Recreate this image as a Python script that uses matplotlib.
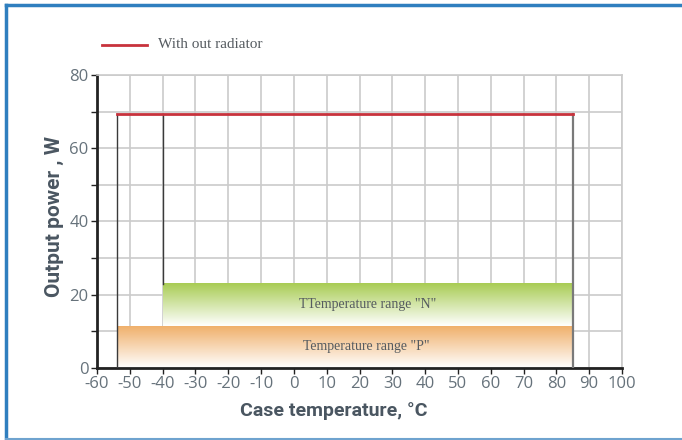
import numpy as np
import matplotlib
matplotlib.use("Agg")
import matplotlib.pyplot as plt
from matplotlib.lines import Line2D

# Data
max_power = 69.3            # W, without radiator
p_range = (-54, 85)         # range "P", case temperature °C
n_range = (-40, 85)         # range "N", case temperature °C
p_top = 11.4                # W
n_top = 22.9                # W
x_ticks = list(range(-60, 101, 10))
y_ticks = [0, 20, 40, 60, 80]
legend_label = "With out radiator"
n_label = 'TTemperature range "N"'
p_label = 'Temperature range "P"'

label_font = "Roboto"

fig = plt.figure(figsize=(6.82, 4.40), dpi=100)
ax = fig.add_axes([97 / 682, 1 - 367.7 / 440, 525 / 682, 292.7 / 440])

ax.set_xlim(-60, 100)
ax.set_ylim(0, 80)

# grid
ax.set_xticks(x_ticks)
ax.set_yticks(y_ticks)
ax.set_yticks(range(0, 81, 10), minor=True)
ax.grid(True, which="both", color="#cbcbcb", lw=1.2, zorder=0)
ax.set_axisbelow(True)

for s in ("top", "right"):
    ax.spines[s].set_color("#cbcbcb")
    ax.spines[s].set_linewidth(1.2)
for s in ("left", "bottom"):
    ax.spines[s].set_color("#222222")
    ax.spines[s].set_linewidth(2)

ax.tick_params(axis="both", which="both", length=4, width=1, color="#222222",
               labelsize=12, labelcolor="#66727b", pad=2)
ax.tick_params(axis="x", which="minor", bottom=False)
ax.set_xticklabels([str(v) for v in x_ticks], fontfamily="Open Sans")
ax.set_yticklabels([str(v) for v in y_ticks], fontfamily="Open Sans")


def gradient_bar(x0, x1, y0, y1, top_rgb):
    n = 256
    t = np.linspace(0, 1, n)[:, None]  # 0 at top, 1 at bottom
    top = np.array(top_rgb)
    white = np.array([1.0, 1.0, 1.0])
    img = top[None, None, :] * (1 - t[..., None]) + white[None, None, :] * t[..., None]
    img = np.repeat(img, 2, axis=1)
    ax.imshow(img, extent=(x0, x1, y0, y1), origin="upper", aspect="auto",
              zorder=2, interpolation="bilinear")


gradient_bar(p_range[0], p_range[1], 0, p_top, (0.94, 0.69, 0.42))
gradient_bar(n_range[0], n_range[1], p_top, n_top, (0.66, 0.80, 0.33))

# boundary lines
ax.plot([p_range[0], p_range[0]], [0, max_power], color="#3a3a3a", lw=1, zorder=3)
ax.plot([n_range[0], n_range[0]], [n_top, max_power], color="#3a3a3a", lw=1, zorder=3)
ax.plot([p_range[1], p_range[1]], [0, max_power], color="#7a7a7a", lw=1.6, zorder=3)
ax.plot([p_range[0], p_range[1]], [max_power, max_power], color="#c8323c", lw=2, zorder=4)

ax.text((n_range[0] + n_range[1]) / 2, (p_top + n_top) / 2, n_label,
        ha="center", va="center", fontsize=10, family="Liberation Serif",
        color="#555b60", zorder=5)
ax.text(22, p_top / 2, p_label,
        ha="center", va="center", fontsize=10, family="Liberation Serif",
        color="#555b60", zorder=5)

ax.set_xlim(-60, 100)
ax.set_ylim(0, 80)

ax.set_xlabel("Case temperature, °C", fontsize=14, fontweight="bold",
              family=label_font, color="#4a5661", labelpad=7)
ax.xaxis.label.set_x(0.451)
ax.set_ylabel("Output power , W", fontsize=15, fontweight="bold",
              family=label_font, color="#4a5661", labelpad=4)
ax.yaxis.label.set_y(0.518)

# legend
fig.add_artist(Line2D([102 / 682, 147 / 682], [1 - 45 / 440, 1 - 45 / 440],
                      color="#c8323c", lw=2))
fig.text(158 / 682, 1 - 45 / 440, legend_label, ha="left", va="center",
         fontsize=11, family="Liberation Serif", color="#555b60")

# frame (top, left, bottom edges)
blue = "#2f7fbf"
fig.add_artist(Line2D([6 / 682, 1.0], [1 - 5 / 440, 1 - 5 / 440], color=blue, lw=2.5))
fig.add_artist(Line2D([6 / 682, 6 / 682], [1 - 5 / 440, 1 / 440], color=blue, lw=2.5))
fig.add_artist(Line2D([6 / 682, 1.0], [1 / 440, 1 / 440], color="#6fa3cf", lw=1.5))

fig.savefig("out.png", dpi=100)
